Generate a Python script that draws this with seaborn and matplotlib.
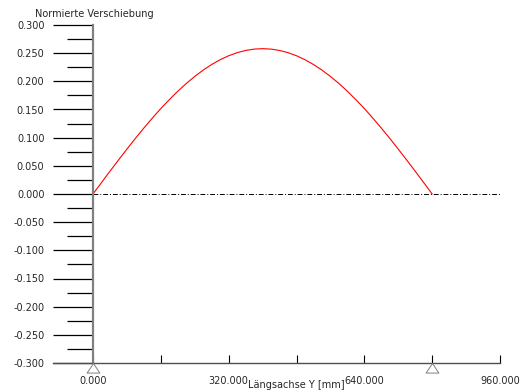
import numpy as np
import pandas as pd
import seaborn as sns
import matplotlib.pyplot as plt
from matplotlib.ticker import MultipleLocator, FixedLocator

# position along the beam [mm] and normalised deflection
pos_mm = [0, 20, 40, 60, 80, 100, 120, 140, 160, 180, 200, 220, 240, 260, 280, 300, 320, 340, 360, 380,
          400, 420, 440, 460, 480, 500, 520, 540, 560, 580, 600, 620, 640, 660, 680, 700, 720, 740,
          760, 780, 800]
deflection = [0.0, 0.0203, 0.0404, 0.0602, 0.0797, 0.0987, 0.1171, 0.1348, 0.1517, 0.1675,
              0.1824, 0.1962, 0.2087, 0.2200, 0.2299, 0.2384, 0.2454, 0.2509, 0.2548, 0.2572,
              0.2580, 0.2572, 0.2548, 0.2509, 0.2454, 0.2384, 0.2299, 0.2200, 0.2087, 0.1962,
              0.1824, 0.1675, 0.1517, 0.1348, 0.1171, 0.0987, 0.0797, 0.0602, 0.0404, 0.0203, 0.0]
supports_mm = [0, 800]
x_ticks = [0, 160, 320, 480, 640, 800, 960]
x_labels = ["0.000", "", "320.000", "", "640.000", "", "960.000"]

sns.set_style("white")
plt.rcParams['font.family'] = ['DejaVu Sans']
plt.rcParams['font.size'] = 7

fig = plt.figure(figsize=(5.27, 3.92), dpi=100)
ax = fig.add_axes([93 / 527, 1 - 363 / 392, (500 - 93) / 527, (363 - 25) / 392])

df = pd.DataFrame({"pos": pos_mm, "val": deflection})
sns.lineplot(data=df, x="pos", y="val", ax=ax, color="#ff0000", linewidth=0.8)

# zero line
ax.plot([0, 960], [0, 0], color="black", linestyle=(0, (5, 2, 1, 2)), linewidth=0.7)

# support triangles hanging under the axis (apex on the axis)
tri = [(0, 0), (-1, -1.5), (1, -1.5), (0, 0)]
ax.scatter(supports_mm, [-0.3] * len(supports_mm), marker=tri, s=190, facecolors="white",
           edgecolors="#808080", linewidths=0.7, clip_on=False, zorder=5)

ax.set_xlim(0, 960)
ax.set_ylim(-0.3, 0.3)

for s in ["top", "right"]:
    ax.spines[s].set_visible(False)
ax.spines["left"].set_color("#808080")
ax.spines["left"].set_linewidth(1.6)
ax.spines["bottom"].set_color("#505050")
ax.spines["bottom"].set_linewidth(1.0)
ax.spines["bottom"].set_bounds(-95, 960)

ax.xaxis.set_major_locator(FixedLocator(x_ticks))
ax.set_xticklabels(x_labels)
ax.tick_params(axis="x", bottom=True, direction="in", length=6, width=0.8, color="black", pad=9)

ax.yaxis.set_major_locator(MultipleLocator(0.05))
ax.yaxis.set_minor_locator(MultipleLocator(0.025))
ax.yaxis.set_major_formatter(plt.FuncFormatter(lambda v, p: f"{v:.3f}"))
ax.tick_params(axis="y", which="major", left=True, direction="out", length=29, width=0.9,
               color="black", pad=6)
ax.tick_params(axis="y", which="minor", left=True, direction="out", length=19, width=0.9,
               color="black")

ax.set_xlabel("Längsachse Y [mm]", labelpad=-4)
ax.set_ylabel("")
fig.text(35 / 527, 1 - 14 / 392, "Normierte Verschiebung", ha="left", va="center", fontsize=7)

fig.savefig("out.png", dpi=100)
